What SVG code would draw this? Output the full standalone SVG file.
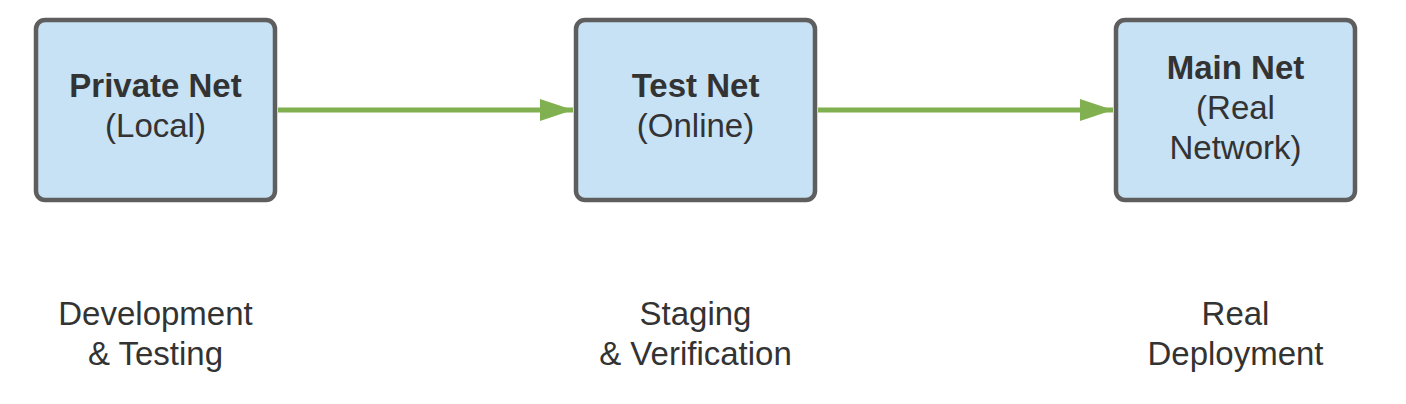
<svg xmlns="http://www.w3.org/2000/svg" width="1406" height="404" viewBox="0 0 1406 404">
<style>
.box{fill:#c7e2f5;stroke:#5e5e5e;stroke-width:4.5}
.t{font-family:"Liberation Sans",Arial,sans-serif;font-size:33px;fill:#333333;text-anchor:middle}
.b{font-weight:bold}
.conn{stroke:#80b04f;stroke-width:5;fill:none}
</style>
<defs>
<marker id="ah" markerUnits="userSpaceOnUse" markerWidth="34" markerHeight="24" refX="33" refY="12" orient="auto">
<path d="M0,1 L33,12 L0,23 Z" fill="#80b04f"/>
</marker>
</defs>
<rect width="1406" height="404" fill="#ffffff"/>
<g id="connectors">
<path class="conn" d="M278,110 L573,110" marker-end="url(#ah)"/>
<path class="conn" d="M818,110 L1113,110" marker-end="url(#ah)"/>
</g>
<g id="private-net">
<rect class="box" x="36" y="20" width="239" height="180" rx="9"/>
<text class="t b" x="155.5" y="97">Private Net</text>
<text class="t" x="155.5" y="137">(Local)</text>
</g>
<g id="test-net">
<rect class="box" x="576" y="20" width="239" height="180" rx="9"/>
<text class="t b" x="695.5" y="97">Test Net</text>
<text class="t" x="695.5" y="137">(Online)</text>
</g>
<g id="main-net">
<rect class="box" x="1116" y="20" width="239" height="180" rx="9"/>
<text class="t b" x="1235.5" y="79">Main Net</text>
<text class="t" x="1235.5" y="119">(Real</text>
<text class="t" x="1235.5" y="159">Network)</text>
</g>
<g id="label-dev">
<text class="t" x="155.5" y="325">Development</text>
<text class="t" x="155.5" y="365">&amp; Testing</text>
</g>
<g id="label-staging">
<text class="t" x="695.5" y="325">Staging</text>
<text class="t" x="695.5" y="365">&amp; Verification</text>
</g>
<g id="label-real">
<text class="t" x="1235.5" y="325">Real</text>
<text class="t" x="1235.5" y="365">Deployment</text>
</g>
</svg>
